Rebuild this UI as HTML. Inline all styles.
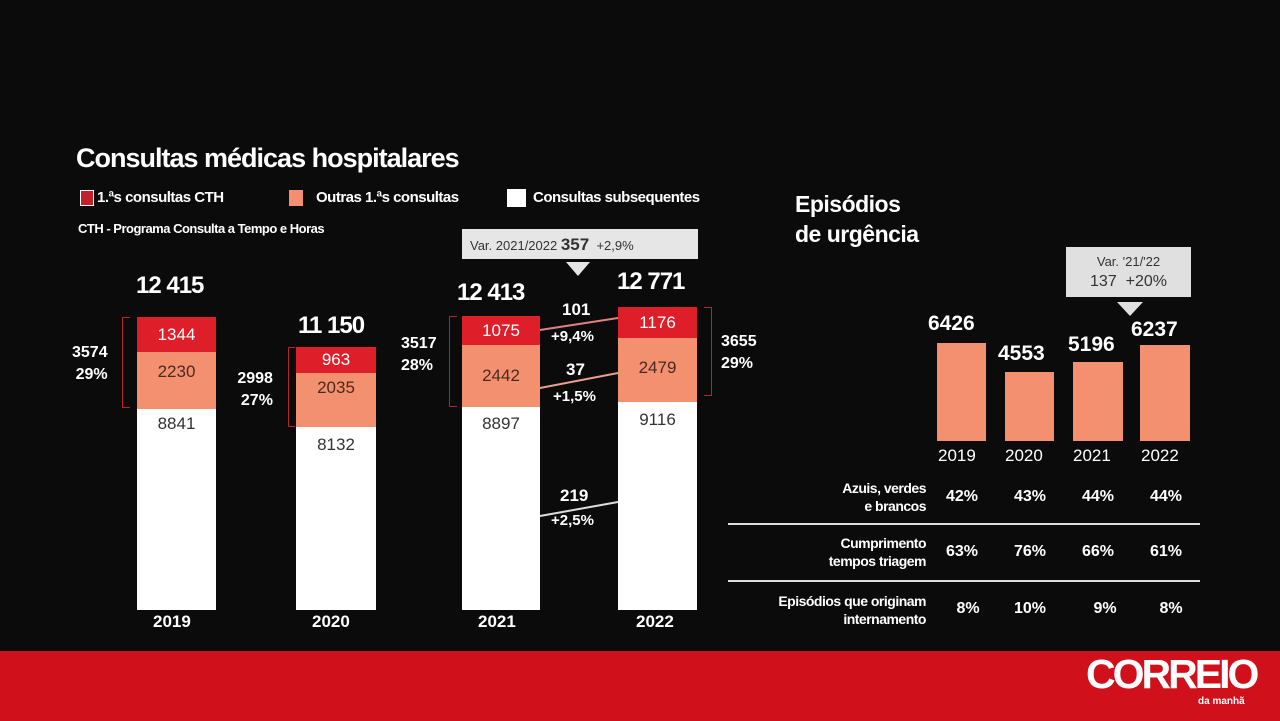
<!DOCTYPE html><html><head><meta charset="utf-8"><style>
*{margin:0;padding:0;box-sizing:border-box}
body{width:1280px;height:721px;background:#0b0b0b;position:relative;overflow:hidden;font-family:"Liberation Sans",sans-serif;color:#fff}
.a{position:absolute;white-space:nowrap}
.b{font-weight:bold}
.seg{position:absolute;text-align:center;font-size:17px}
.r{background:#de1f2a;color:#fff}
.s{background:#f2906f;color:#4a2a20}
.w{background:#fff;color:#333}
.br{position:absolute;border:1.5px solid #b3242c}
.sb{position:absolute;background:#f2906f}
.p{position:absolute;font-weight:bold;font-size:16px;width:50px;text-align:center}
</style></head><body>
<div class="a b" style="left:76px;top:143px;font-size:27px;letter-spacing:-1px">Consultas médicas hospitalares</div>
<div class="a" style="left:80px;top:190px;width:14px;height:16px;background:#c41f2c;border:1px solid #fff"></div>
<div class="a b" style="left:97px;top:189px;font-size:15px;letter-spacing:-0.5px">1.ªs consultas CTH</div>
<div class="a" style="left:289px;top:190px;width:14px;height:16px;background:#f2906f"></div>
<div class="a b" style="left:316px;top:189px;font-size:15px;letter-spacing:-0.5px">Outras 1.ªs consultas</div>
<div class="a" style="left:507px;top:189px;width:19px;height:18px;background:#fff"></div>
<div class="a b" style="left:533px;top:189px;font-size:15px;letter-spacing:-0.5px">Consultas subsequentes</div>
<div class="a b" style="left:78px;top:221px;font-size:13px;letter-spacing:-0.5px">CTH - Programa Consulta a Tempo e Horas</div>
<div class="a" style="left:462px;top:229px;width:236px;height:30px;background:#e6e6e6;color:#333;font-size:13px;padding:6px 8px">Var. 2021/2022 <b style="font-size:17px">357</b> &nbsp;+2,9%</div>
<div class="a" style="left:566px;top:262px;width:0;height:0;border-left:12px solid transparent;border-right:12px solid transparent;border-top:14px solid #e6e6e6"></div>

<div class="a b" style="left:136px;top:272px;font-size:24px;letter-spacing:-1px">12 415</div>
<div class="seg r" style="left:137px;top:317px;width:79px;height:35px;line-height:35px">1344</div>
<div class="seg s" style="left:137px;top:352px;width:79px;height:57px;line-height:40px">2230</div>
<div class="seg w" style="left:137px;top:409px;width:79px;height:201px;line-height:30px">8841</div>
<div class="br" style="left:122px;top:317px;width:8px;height:91px;border-right:none"></div>
<div class="a b" style="left:72px;top:342px;font-size:16px;line-height:22px;text-align:right">3574<br>29%</div>
<div class="a b" style="left:153px;top:612px;font-size:17px">2019</div>
<div class="a b" style="left:298px;top:312px;font-size:24px;letter-spacing:-1px">11 150</div>
<div class="seg r" style="left:296px;top:347px;width:80px;height:26px;line-height:26px">963</div>
<div class="seg s" style="left:296px;top:373px;width:80px;height:54px;line-height:30px">2035</div>
<div class="seg w" style="left:296px;top:427px;width:80px;height:183px;line-height:36px">8132</div>
<div class="br" style="left:288px;top:347px;width:7px;height:80px;border-right:none"></div>
<div class="a b" style="left:232px;top:368px;font-size:16px;line-height:22px;text-align:right">2998<br>&nbsp;&nbsp;27%</div>
<div class="a b" style="left:312px;top:612px;font-size:17px">2020</div>
<div class="a b" style="left:457px;top:279px;font-size:24px;letter-spacing:-1px">12 413</div>
<div class="seg r" style="left:462px;top:316px;width:78px;height:29px;line-height:29px">1075</div>
<div class="seg s" style="left:462px;top:345px;width:78px;height:62px;line-height:62px">2442</div>
<div class="seg w" style="left:462px;top:407px;width:78px;height:203px;line-height:34px">8897</div>
<div class="br" style="left:449px;top:316px;width:8px;height:91px;border-right:none"></div>
<div class="a b" style="left:401px;top:333px;font-size:16px;line-height:22px">3517<br>28%</div>
<div class="a b" style="left:478px;top:612px;font-size:17px">2021</div>
<div class="a b" style="left:617px;top:268px;font-size:24px;letter-spacing:-1px">12 771</div>
<div class="seg r" style="left:618px;top:307px;width:79px;height:31px;line-height:31px">1176</div>
<div class="seg s" style="left:618px;top:338px;width:79px;height:64px;line-height:60px">2479</div>
<div class="seg w" style="left:618px;top:402px;width:79px;height:208px;line-height:36px">9116</div>
<div class="br" style="left:704px;top:307px;width:8px;height:89px;border-left:none"></div>
<div class="a b" style="left:721px;top:331px;font-size:16px;line-height:22px">3655<br>29%</div>
<div class="a b" style="left:636px;top:612px;font-size:17px">2022</div>
<svg class="a" style="left:0;top:0" width="1280" height="721">
<line x1="540" y1="330" x2="618" y2="318" stroke="#e08080" stroke-width="2"/>
<line x1="540" y1="388" x2="618" y2="373" stroke="#e8a090" stroke-width="2"/>
<line x1="540" y1="516" x2="618" y2="502" stroke="#ddd" stroke-width="2"/>
</svg>
<div class="a b" style="left:562px;top:300px;font-size:17px">101</div>
<div class="a b" style="left:551px;top:328px;font-size:15px">+9,4%</div>
<div class="a b" style="left:566px;top:360px;font-size:17px">37</div>
<div class="a b" style="left:553px;top:388px;font-size:15px">+1,5%</div>
<div class="a b" style="left:560px;top:486px;font-size:17px">219</div>
<div class="a b" style="left:551px;top:512px;font-size:15px">+2,5%</div>

<div class="a b" style="left:795px;top:189px;font-size:23px;line-height:30px;letter-spacing:-0.5px">Episódios<br>de urgência</div>
<div class="a" style="left:1066px;top:247px;width:125px;height:50px;background:#e0e0e0;color:#333;text-align:center;font-size:13px;line-height:20px;padding-top:5px">Var. '21/'22<br><span style="font-size:16px">137 &nbsp;+20%</span></div>
<div class="a" style="left:1117px;top:302px;border-left:13px solid transparent;border-right:13px solid transparent;border-top:14px solid #e0e0e0"></div>
<div class="sb" style="left:937px;top:343px;width:49px;height:98px"></div>
<div class="sb" style="left:1005px;top:372px;width:49px;height:69px"></div>
<div class="sb" style="left:1073px;top:362px;width:50px;height:79px"></div>
<div class="sb" style="left:1140px;top:345px;width:50px;height:96px"></div>
<div class="a b" style="left:928px;top:312px;font-size:21px">6426</div>
<div class="a b" style="left:998px;top:342px;font-size:21px">4553</div>
<div class="a b" style="left:1068px;top:333px;font-size:21px">5196</div>
<div class="a b" style="left:1131px;top:318px;font-size:21px">6237</div>
<div class="a" style="left:938px;top:446px;font-size:17px">2019</div>
<div class="a" style="left:1005px;top:446px;font-size:17px">2020</div>
<div class="a" style="left:1073px;top:446px;font-size:17px">2021</div>
<div class="a" style="left:1141px;top:446px;font-size:17px">2022</div>
<div class="a b" style="left:740px;top:479px;width:186px;text-align:right;font-size:14px;line-height:18px;letter-spacing:-0.5px">Azuis, verdes<br>e brancos</div>
<div class="a" style="left:728px;top:523px;width:472px;height:2px;background:#ddd"></div>
<div class="a b" style="left:740px;top:534px;width:186px;text-align:right;font-size:14px;line-height:18px;letter-spacing:-0.5px">Cumprimento<br>tempos triagem</div>
<div class="a" style="left:728px;top:580px;width:472px;height:2px;background:#ddd"></div>
<div class="a b" style="left:720px;top:592px;width:206px;text-align:right;font-size:14px;line-height:18px;letter-spacing:-0.5px">Episódios que originam<br>internamento</div>
<div class="p" style="left:937px;top:488px">42%</div>
<div class="p" style="left:1005px;top:488px">43%</div>
<div class="p" style="left:1073px;top:488px">44%</div>
<div class="p" style="left:1141px;top:488px">44%</div>
<div class="p" style="left:937px;top:543px">63%</div>
<div class="p" style="left:1005px;top:543px">76%</div>
<div class="p" style="left:1073px;top:543px">66%</div>
<div class="p" style="left:1141px;top:543px">61%</div>
<div class="p" style="left:943px;top:600px">8%</div>
<div class="p" style="left:1005px;top:600px">10%</div>
<div class="p" style="left:1080px;top:600px">9%</div>
<div class="p" style="left:1146px;top:600px">8%</div>

<div class="a" style="left:0;top:651px;width:1280px;height:70px;background:#d0111b"></div>
<div class="a b" style="left:1086px;top:651px;font-size:41px;letter-spacing:-3px">CORREIO</div>
<div class="a b" style="left:1198px;top:696px;font-size:10px">da manhã</div>
</body></html>
